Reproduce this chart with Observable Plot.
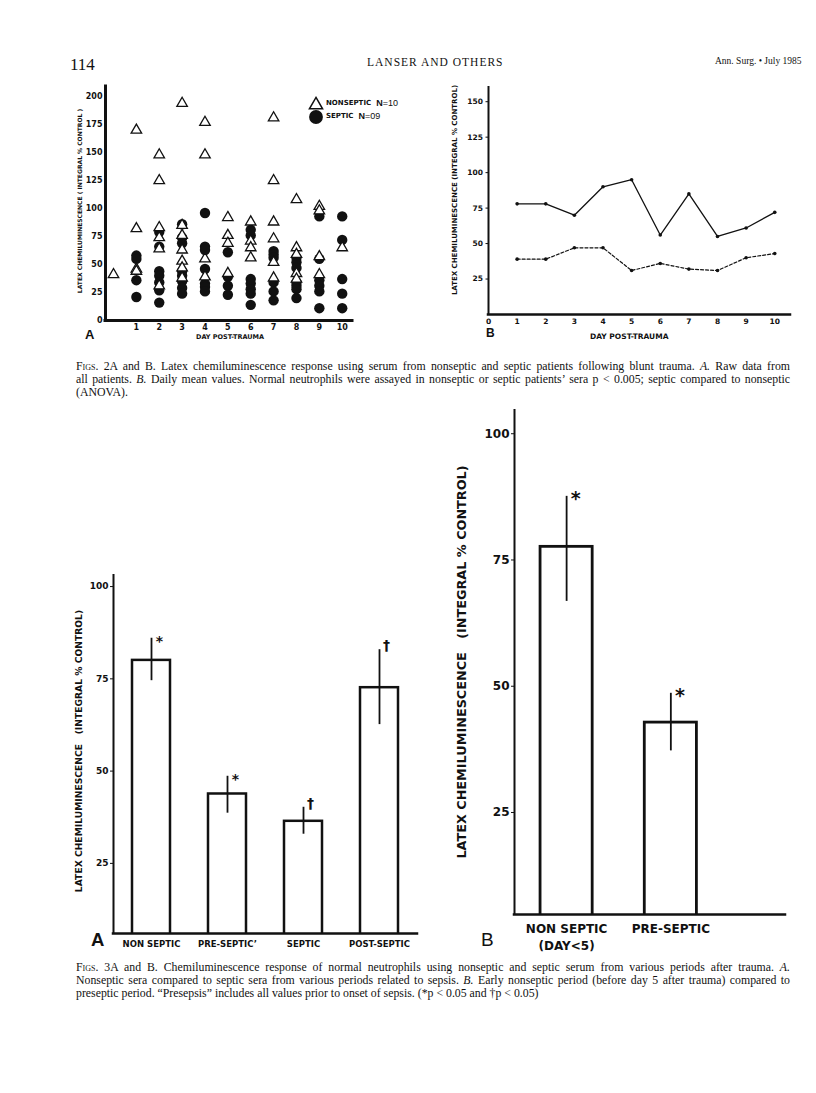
<!DOCTYPE html>
<html><head><meta charset="utf-8">
<script src="https://cdn.jsdelivr.net/npm/d3@7"></script>
<script src="https://cdn.jsdelivr.net/npm/@observablehq/plot@0.6"></script>
<style>
html,body{margin:0;padding:0;background:#fff;}
#page{position:relative;width:816px;height:1093px;background:#fff;overflow:hidden;color:#111;font-family:"Liberation Serif","Times New Roman",serif;}
.abs{position:absolute;white-space:nowrap;}
.chart{position:absolute;}
.sb{font-family:"DejaVu Sans",sans-serif;font-weight:bold;}
.rot{position:absolute;transform:translate(-50%,-50%) rotate(-90deg);white-space:pre;font-family:"DejaVu Sans",sans-serif;font-weight:bold;}
.cap{position:absolute;left:76px;width:714px;font-size:11.8px;line-height:13.2px;font-family:"Liberation Serif",serif;}
.cap .j{text-align:justify;text-align-last:justify;white-space:nowrap;}
.cap .l{white-space:nowrap;}
.sc{font-variant:small-caps;}
</style></head>
<body><div id="page">
  <div class="abs" style="left:70px;top:55px;font-size:17px;">114</div>
  <div class="abs" style="left:367px;top:56px;font-size:11.5px;letter-spacing:1px;">LANSER AND OTHERS</div>
  <div class="abs" style="left:715px;top:56px;font-size:9.5px;">Ann. Surg. • July 1985</div>

  <div class="rot" style="left:79px;top:201px;font-size:6px;">LATEX CHEMILUMINESCENCE ( INTEGRAL % CONTROL )</div>
  <div class="rot" style="left:455px;top:190px;font-size:7px;">LATEX CHEMILUMINESCENCE (INTEGRAL % CONTROL)</div>
  <div class="abs" style="left:85px;top:327px;font-size:13px;font-family:'Liberation Sans',sans-serif;font-weight:bold;">A</div>
  <div class="abs sb" style="left:196px;top:333px;font-size:6.5px;">DAY POST-TRAUMA</div>
  <div class="abs" style="left:486px;top:326px;font-size:12px;font-family:'Liberation Sans',sans-serif;font-weight:bold;">B</div>
  <div class="abs sb" style="left:590px;top:332px;font-size:7.5px;">DAY POST-TRAUMA</div>

  <div id="legend" class="abs" style="left:308px;top:97px;line-height:13px;"></div>

  <div class="cap" style="top:360px;">
    <div class="j"><span class="sc">Figs.</span> 2A and B. Latex chemiluminescence response using serum from nonseptic and septic patients following blunt trauma. <i>A.</i> Raw data from</div>
    <div class="j">all patients. <i>B.</i> Daily mean values. Normal neutrophils were assayed in nonseptic or septic patients’ sera p &lt; 0.005; septic compared to nonseptic</div>
    <div class="l">(ANOVA).</div>
  </div>

  <div class="rot" style="left:78px;top:751px;font-size:9.2px;">LATEX CHEMILUMINESCENCE   (INTEGRAL % CONTROL)</div>
  <div class="abs" style="left:91px;top:929px;font-size:18.5px;font-family:'Liberation Sans',sans-serif;font-weight:bold;">A</div>
  <div class="rot" style="left:461px;top:662px;font-size:12.8px;">LATEX CHEMILUMINESCENCE   (INTEGRAL % CONTROL)</div>
  <div class="abs" style="left:481px;top:929px;font-size:19px;font-family:'Liberation Sans',sans-serif;">B</div>

  <div class="cap" style="top:961px;">
    <div class="j"><span class="sc">Figs.</span> 3A and B. Chemiluminescence response of normal neutrophils using nonseptic and septic serum from various periods after trauma. <i>A.</i></div>
    <div class="j">Nonseptic sera compared to septic sera from various periods related to sepsis. <i>B.</i> Early nonseptic period (before day 5 after trauma) compared to</div>
    <div class="l">preseptic period. “Presepsis” includes all values prior to onset of sepsis. (*p &lt; 0.05 and †p &lt; 0.05)</div>
  </div>
</div>
<script>
// ---------- DATA ----------
const days = [1, 2, 3, 4, 5, 6, 7, 8, 9, 10];
const days2B = [0, 1, 2, 3, 4, 5, 6, 7, 8, 9, 10];
const yTicks2A = [0, 25, 50, 75, 100, 125, 150, 175, 200];
const yTicks2B = [25, 50, 75, 100, 125, 150];
const yTicks3 = [25, 50, 75, 100];

// Fig 2A raw data: index = day post-trauma
const nonsepticRaw = [
  [41],
  [170, 82, 46, 44],
  [148, 125, 83, 74, 64, 31],
  [194, 85, 76, 63, 53, 47, 38],
  [177, 148, 55, 39],
  [92, 76, 69, 42],
  [88, 71, 65, 56],
  [181, 125, 88, 73, 52, 38],
  [108, 65, 59, 42, 37],
  [102, 98, 57, 41],
  [65]
];
const septicRaw = [
  [],
  [58, 55, 36, 21],
  [79, 66, 44, 40, 34, 27, 16],
  [86, 74, 69, 44, 40, 35, 29, 24],
  [96, 66, 63, 46, 33, 30, 26],
  [61, 39, 31, 23],
  [81, 76, 37, 33, 28, 24, 14],
  [62, 59, 56, 34, 26, 18],
  [56, 52, 47, 34, 31, 28, 20],
  [93, 55, 36, 31, 26, 11],
  [93, 72, 37, 24, 11]
];

// Fig 2B daily means
const nonsepticMean = [78, 78, 70, 90, 95, 56, 85, 55, 61, 72];
const septicMean = [39, 39, 47, 47, 31, 36, 32, 31, 40, 43];

// Fig 3A
const groups3A = ["NON SEPTIC", "PRE-SEPTIC’", "SEPTIC", "POST-SEPTIC"];
const means3A = [80, 43.8, 36.4, 72.6];
const hi3A = [86, 48.6, 40.2, 82.9];
const lo3A = [74.5, 38.6, 32.9, 62.6];
const sig3A = ["*", "*", "†", "†"];

// Fig 3B
const groups3B = ["NON SEPTIC\n(DAY<5)", "PRE-SEPTIC"];
const means3B = [77.6, 42.8];
const hi3B = [87.6, 48.6];
const lo3B = [66.8, 37.2];
const sig3B = ["*", "*"];

// ---------- BUILD ----------
const ink = "#111";
const baseStyle = {fontFamily: "DejaVu Sans, sans-serif", color: ink, background: "transparent", overflow: "visible"};
const flat = arr => arr.flatMap((vals, day) => vals.map(value => ({day, value})));
const page = document.getElementById("page");
function place(svg, left, top) {
  const d = document.createElement("div");
  d.className = "chart";
  d.style.left = left + "px"; d.style.top = top + "px";
  d.appendChild(svg); page.appendChild(d);
}

// Fig 2A
const xDom2A = [-0.35, 10.45], yDom2A = [0, 209];
place(Plot.plot({
  width: 345, height: 290, marginLeft: 85, marginRight: 13, marginTop: 26, marginBottom: 30,
  style: baseStyle,
  x: {domain: xDom2A, label: null}, y: {domain: yDom2A, label: null},
  marks: [
    Plot.axisY(yTicks2A, {tickSize: 0, tickPadding: 3, fontSize: 8, fontWeight: "bold", label: null}),
    Plot.axisX(days, {tickSize: 0, tickPadding: 4, fontSize: 8, fontWeight: "bold", label: null}),
    Plot.dot(flat(septicRaw), {x: "day", y: "value", r: 5.2, symbol: "circle", fill: ink}),
    Plot.dot(flat(nonsepticRaw), {x: "day", y: "value", r: 3.9, symbol: "triangle", fill: "white", stroke: ink, strokeWidth: 1.3}),
    Plot.ruleX([xDom2A[0]], {strokeWidth: 3, strokeLinecap: "square"}),
    Plot.ruleY([yDom2A[0]], {strokeWidth: 3, strokeLinecap: "square"})
  ]
}), 20, 60);

// Legend for 2A
const tri = d3.symbol(d3.symbolTriangle, 75)();
const cir = d3.symbol(d3.symbolCircle, 150)();
document.getElementById("legend").innerHTML =
  `<div style="display:flex;align-items:center;height:13px;"><svg width="16" height="14" style="overflow:visible"><path d="${tri}" transform="translate(8,8)" fill="white" stroke="${ink}" stroke-width="1.5"/></svg>` +
  `<span class="sb" style="font-size:7px;margin-left:2px;">NONSEPTIC</span><span style="font-family:'Liberation Sans';font-size:9px;margin-left:5px;"><b>N</b>=10</span></div>` +
  `<div style="display:flex;align-items:center;height:13px;margin-top:0px;"><svg width="16" height="14" style="overflow:visible"><path d="${cir}" transform="translate(8,7)" fill="${ink}"/></svg>` +
  `<span class="sb" style="font-size:7px;margin-left:2px;">SEPTIC</span><span style="font-family:'Liberation Sans';font-size:9px;margin-left:5px;"><b>N</b>=09</span></div>`;

// Fig 2B
const xDom2B = [0, 10.55], yDom2B = [0, 160];
const meanN = nonsepticMean.map((value, i) => ({day: days[i], value}));
const meanS = septicMean.map((value, i) => ({day: days[i], value}));
place(Plot.plot({
  width: 370, height: 290, marginLeft: 58, marginRight: 10, marginTop: 27, marginBottom: 36,
  style: baseStyle,
  x: {domain: xDom2B, label: null}, y: {domain: yDom2B, label: null},
  marks: [
    Plot.axisY(yTicks2B, {tickSize: 2.5, tickPadding: 3, fontSize: 7.5, fontWeight: "bold", label: null}),
    Plot.axisX(days2B, {tickSize: 0, tickPadding: 4, fontSize: 7.5, fontWeight: "bold", label: null}),
    Plot.line(meanN, {x: "day", y: "value", stroke: ink, strokeWidth: 1.3}),
    Plot.dot(meanN, {x: "day", y: "value", r: 1.8, fill: ink}),
    Plot.line(meanS, {x: "day", y: "value", stroke: ink, strokeWidth: 1.2, strokeDasharray: "3,2"}),
    Plot.dot(meanS, {x: "day", y: "value", r: 1.8, fill: ink}),
    Plot.ruleX([xDom2B[0]], {strokeWidth: 2, strokeLinecap: "square"}),
    Plot.ruleY([yDom2B[0]], {strokeWidth: 2.5, strokeLinecap: "square"})
  ]
}), 430, 60);

// Bar chart helper
function barChart({groups, means, hi, lo, sig, xDom, yDom, w, h, ml, mr, mt, mb, tickFont, labelFont, labelPad, labelSpacing, starFont, starDx, daggerFont, axisW, barW}) {
  const rows = groups.map((g, i) => ({i, group: g, mean: means[i], hi: hi[i], lo: lo[i], sig: sig[i]}));
  return Plot.plot({
    width: w, height: h, marginLeft: ml, marginRight: mr, marginTop: mt, marginBottom: mb,
    style: baseStyle,
    x: {domain: xDom, label: null}, y: {domain: yDom, label: null},
    marks: [
      Plot.axisY(yTicks3, {tickSize: 3, tickPadding: 2, fontSize: tickFont, fontWeight: "bold", label: null}),
      Plot.axisX(rows.map(d => d.i), {tickSize: 0, tickPadding: labelPad, tickFormat: i => groups[i], fontSize: labelFont, fontWeight: "bold", lineHeight: 1.4, label: null, style: {letterSpacing: labelSpacing}}),
      Plot.rectY(rows, {x1: d => d.i - 0.25, x2: d => d.i + 0.25, y1: 0, y2: "mean", fill: "white", stroke: ink, strokeWidth: barW, clip: true}),
      Plot.ruleX(rows, {x: "i", y1: "lo", y2: "hi", stroke: ink, strokeWidth: 1.8}),
      Plot.text(rows.filter(d => d.sig === "*"), {x: "i", y: "hi", text: "sig", dx: starDx, dy: 3, fontSize: starFont, fontWeight: "bold"}),
      Plot.text(rows.filter(d => d.sig === "†"), {x: "i", y: "hi", text: "sig", dx: starDx - 1, dy: -4, fontSize: daggerFont, fontWeight: "bold"}),
      Plot.ruleX([xDom[0]], {strokeWidth: axisW, strokeLinecap: "square"}),
      Plot.ruleY([yDom[0]], {strokeWidth: axisW + 0.5, strokeLinecap: "square"})
    ]
  });
}

place(barChart({groups: groups3A, means: means3A, hi: hi3A, lo: lo3A, sig: sig3A,
  xDom: [-0.5, 3.5], yDom: [6, 103], w: 390, h: 400, ml: 73, mr: 13, mt: 15, mb: 27,
  tickFont: 9, labelFont: 8.5, labelPad: 5, labelSpacing: "0.8px", starFont: 14, starDx: 8, daggerFont: 14, axisW: 2, barW: 2.5}), 40, 560);

place(barChart({groups: groups3B, means: means3B, hi: hi3B, lo: lo3B, sig: sig3B,
  xDom: [-0.5, 2.1], yDom: [4.8, 104.6], w: 340, h: 560, ml: 54, mr: 15, mt: 10, mb: 46,
  tickFont: 12, labelFont: 12, labelPad: 7, labelSpacing: "0.8px", starFont: 19, starDx: 9, daggerFont: 18, axisW: 2, barW: 2.8}), 460, 400);

// Fit justified caption lines: shrink word spacing if a line is naturally wider than the column
document.querySelectorAll(".cap .j").forEach(div => {
  const span = document.createElement("span");
  while (div.firstChild) span.appendChild(div.firstChild);
  div.appendChild(span);
  const natural = span.getBoundingClientRect().width;
  const target = div.clientWidth;
  if (natural > target) {
    const spaces = (span.textContent.match(/ /g) || []).length;
    div.style.wordSpacing = ((target - natural) / spaces - 0.3) + "px";
  }
});
</script>
</body></html>
